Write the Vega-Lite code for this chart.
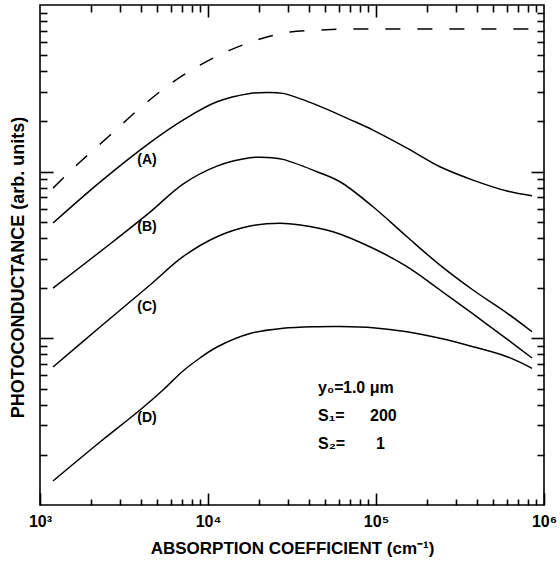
{
  "$schema": "https://vega.github.io/schema/vega-lite/v6.json",
  "width": 504,
  "height": 500,
  "autosize": {"type": "none"},
  "padding": {"left": 40, "top": 5, "right": 16, "bottom": 58},
  "background": "white",
  "config": {
    "view": {"stroke": "black", "strokeWidth": 1.6},
    "font": "Liberation Sans",
    "axis": {
      "domain": false,
      "grid": false,
      "tickColor": "black",
      "tickWidth": 1.6,
      "labels": false,
      "title": null,
      "labelFont": "Liberation Sans",
      "labelFontWeight": "bold",
      "labelColor": "black",
      "titleFont": "Liberation Sans",
      "titleFontWeight": "bold",
      "titleColor": "black"
    }
  },
  "datasets": {
    "solid": [
      {"series": "A", "x": 1195, "y": 49.2},
      {"series": "A", "x": 2276, "y": 86.6},
      {"series": "A", "x": 4517, "y": 149.5},
      {"series": "A", "x": 7099, "y": 204.0},
      {"series": "A", "x": 11310, "y": 262.6},
      {"series": "A", "x": 17780, "y": 294.9},
      {"series": "A", "x": 22450, "y": 299.0},
      {"series": "A", "x": 27950, "y": 294.9},
      {"series": "A", "x": 44550, "y": 250.9},
      {"series": "A", "x": 70030, "y": 205.4},
      {"series": "A", "x": 95970, "y": 177.6},
      {"series": "A", "x": 152900, "y": 138.5},
      {"series": "A", "x": 240400, "y": 107.0},
      {"series": "A", "x": 377900, "y": 89.0},
      {"series": "A", "x": 602300, "y": 76.5},
      {"series": "A", "x": 848500, "y": 71.7},
      {"series": "B", "x": 1195, "y": 20.03},
      {"series": "B", "x": 2610, "y": 36.8},
      {"series": "B", "x": 4517, "y": 57.2},
      {"series": "B", "x": 7099, "y": 84.3},
      {"series": "B", "x": 11310, "y": 108.0},
      {"series": "B", "x": 17780, "y": 121.2},
      {"series": "B", "x": 22450, "y": 121.8},
      {"series": "B", "x": 27950, "y": 118.5},
      {"series": "B", "x": 44550, "y": 99.9},
      {"series": "B", "x": 61050, "y": 87.0},
      {"series": "B", "x": 95970, "y": 61.6},
      {"series": "B", "x": 152900, "y": 40.7},
      {"series": "B", "x": 240400, "y": 27.5},
      {"series": "B", "x": 377900, "y": 19.5},
      {"series": "B", "x": 602300, "y": 14.18},
      {"series": "B", "x": 848500, "y": 10.95},
      {"series": "C", "x": 1195, "y": 6.73},
      {"series": "C", "x": 2276, "y": 11.69},
      {"series": "C", "x": 4517, "y": 20.9},
      {"series": "C", "x": 7099, "y": 30.9},
      {"series": "C", "x": 11310, "y": 40.7},
      {"series": "C", "x": 17780, "y": 47.2},
      {"series": "C", "x": 26830, "y": 49.0},
      {"series": "C", "x": 35290, "y": 47.8},
      {"series": "C", "x": 55460, "y": 43.6},
      {"series": "C", "x": 95970, "y": 34.7},
      {"series": "C", "x": 152900, "y": 26.9},
      {"series": "C", "x": 240400, "y": 19.5},
      {"series": "C", "x": 377900, "y": 14.0},
      {"series": "C", "x": 602300, "y": 9.90},
      {"series": "C", "x": 848500, "y": 7.62},
      {"series": "D", "x": 1195, "y": 1.393},
      {"series": "D", "x": 2276, "y": 2.388},
      {"series": "D", "x": 3937, "y": 3.715},
      {"series": "D", "x": 5398, "y": 4.90},
      {"series": "D", "x": 7099, "y": 6.37},
      {"series": "D", "x": 8962, "y": 7.62},
      {"series": "D", "x": 11310, "y": 8.87},
      {"series": "D", "x": 17780, "y": 10.69},
      {"series": "D", "x": 27950, "y": 11.48},
      {"series": "D", "x": 44550, "y": 11.74},
      {"series": "D", "x": 61050, "y": 11.77},
      {"series": "D", "x": 95970, "y": 11.58},
      {"series": "D", "x": 152900, "y": 10.95},
      {"series": "D", "x": 240400, "y": 10.0},
      {"series": "D", "x": 377900, "y": 8.90},
      {"series": "D", "x": 602300, "y": 7.76},
      {"series": "D", "x": 848500, "y": 6.61}
    ],
    "dashed": [
      {"x": 1195, "y": 79.7},
      {"x": 1730, "y": 114.2},
      {"x": 2540, "y": 161.3},
      {"x": 3937, "y": 240.7},
      {"x": 5941, "y": 335.4},
      {"x": 8962, "y": 436.0},
      {"x": 13520, "y": 536.4},
      {"x": 20400, "y": 624.4},
      {"x": 30770, "y": 687.9},
      {"x": 46420, "y": 707.2},
      {"x": 70030, "y": 717.1},
      {"x": 908500, "y": 717.1}
    ],
    "curveLabels": [
      {"t": "(A)", "x": 4335, "y": 117.4},
      {"t": "(B)", "x": 4335, "y": 46.5},
      {"t": "(C)", "x": 4335, "y": 15.4},
      {"t": "(D)", "x": 4335, "y": 3.33}
    ],
    "notes": [
      {"t": "y₀=", "x": 45190, "y": 5.03},
      {"t": "1.0 μm", "x": 63620, "y": 5.03},
      {"t": "S₁=", "x": 45190, "y": 3.42},
      {"t": "200", "x": 92100, "y": 3.42},
      {"t": "S₂=", "x": 45190, "y": 2.32},
      {"t": "1", "x": 100000, "y": 2.32}
    ]
  },
  "layer": [
    {
      "data": {"name": "solid"},
      "mark": {"type": "line", "color": "black", "strokeWidth": 1.5, "interpolate": "catmull-rom"},
      "encoding": {
        "detail": {"field": "series"},
        "x": {
          "field": "x", "type": "quantitative",
          "scale": {"type": "log", "domain": [1000, 1000000], "nice": false},
          "axis": {"orient": "bottom", "values": [2000,3000,4000,5000,6000,7000,8000,9000], "tickSize": 6, "offset": -6}
        },
        "y": {
          "field": "y", "type": "quantitative",
          "scale": {"type": "log", "domain": [1, 1000], "nice": false},
          "axis": {"orient": "left", "values": [2,3,4,5,6,7,8,9], "tickSize": 7, "offset": -7}
        }
      }
    },
    {
      "data": {"name": "dashed"},
      "mark": {"type": "line", "color": "black", "strokeWidth": 1.5, "strokeDash": [15, 17], "interpolate": "monotone"},
      "encoding": {
        "x": {
          "field": "x", "type": "quantitative",
          "scale": {"type": "log", "domain": [1000, 1000000], "nice": false},
          "axis": {"orient": "bottom", "values": [20000,30000,40000,50000,60000,70000,80000,90000], "tickSize": 6, "offset": -6}
        },
        "y": {
          "field": "y", "type": "quantitative",
          "scale": {"type": "log", "domain": [1, 1000], "nice": false},
          "axis": {"orient": "left", "values": [20,30,40,50,60,70,80,90], "tickSize": 7, "offset": -7}
        }
      }
    },
    {
      "data": {"name": "curveLabels"},
      "mark": {"type": "text", "font": "Liberation Sans", "fontWeight": "bold", "fontSize": 14, "align": "center", "baseline": "middle", "color": "black"},
      "encoding": {
        "text": {"field": "t"},
        "x": {
          "field": "x", "type": "quantitative",
          "scale": {"type": "log", "domain": [1000, 1000000], "nice": false},
          "axis": {"orient": "bottom", "values": [200000,300000,400000,500000,600000,700000,800000,900000], "tickSize": 6, "offset": -6}
        },
        "y": {
          "field": "y", "type": "quantitative",
          "scale": {"type": "log", "domain": [1, 1000], "nice": false},
          "axis": {"orient": "left", "values": [200,300,400,500,600,700,800,900], "tickSize": 7, "offset": -7}
        }
      }
    },
    {
      "data": {"name": "notes"},
      "mark": {"type": "text", "font": "Liberation Sans", "fontWeight": "bold", "fontSize": 16, "align": "left", "baseline": "middle", "color": "black"},
      "encoding": {
        "text": {"field": "t"},
        "x": {
          "field": "x", "type": "quantitative",
          "scale": {"type": "log", "domain": [1000, 1000000], "nice": false},
          "axis": {"orient": "top", "values": [2000,3000,4000,5000,6000,7000,8000,9000], "tickSize": 7, "offset": -7}
        },
        "y": {
          "field": "y", "type": "quantitative",
          "scale": {"type": "log", "domain": [1, 1000], "nice": false},
          "axis": {"orient": "right", "values": [2,3,4,5,6,7,8,9], "tickSize": 7, "offset": -7}
        }
      }
    },
    {
      "data": {"name": "dashed"},
      "mark": {"type": "point", "opacity": 0},
      "encoding": {
        "x": {
          "field": "x", "type": "quantitative",
          "scale": {"type": "log", "domain": [1000, 1000000], "nice": false},
          "axis": {"orient": "top", "values": [20000,30000,40000,50000,60000,70000,80000,90000], "tickSize": 7, "offset": -7}
        },
        "y": {
          "field": "y", "type": "quantitative",
          "scale": {"type": "log", "domain": [1, 1000], "nice": false},
          "axis": {"orient": "right", "values": [20,30,40,50,60,70,80,90], "tickSize": 7, "offset": -7}
        }
      }
    },
    {
      "data": {"name": "dashed"},
      "mark": {"type": "point", "opacity": 0},
      "encoding": {
        "x": {
          "field": "x", "type": "quantitative",
          "scale": {"type": "log", "domain": [1000, 1000000], "nice": false},
          "axis": {"orient": "top", "values": [200000,300000,400000,500000,600000,700000,800000,900000], "tickSize": 7, "offset": -7}
        },
        "y": {
          "field": "y", "type": "quantitative",
          "scale": {"type": "log", "domain": [1, 1000], "nice": false},
          "axis": {"orient": "right", "values": [200,300,400,500,600,700,800,900], "tickSize": 7, "offset": -7}
        }
      }
    },
    {
      "data": {"name": "dashed"},
      "mark": {"type": "point", "opacity": 0},
      "encoding": {
        "x": {
          "field": "x", "type": "quantitative",
          "scale": {"type": "log", "domain": [1000, 1000000], "nice": false},
          "axis": {"orient": "bottom", "values": [1000, 10000, 100000, 1000000], "tickSize": 12, "offset": -12, "labels": true, "labelFlush": false, "labelOverlap": false, "labelFontSize": 16, "labelPadding": 8, "labelExpr": "datum.value == 1000 ? '10³' : datum.value == 10000 ? '10⁴' : datum.value == 100000 ? '10⁵' : '10⁶'", "title": "ABSORPTION COEFFICIENT (cm⁻¹)", "titleFontSize": 17, "titlePadding": 11}
        },
        "y": {
          "field": "y", "type": "quantitative",
          "scale": {"type": "log", "domain": [1, 1000], "nice": false},
          "axis": {"orient": "left", "values": [10, 100], "tickSize": 13, "offset": -13, "title": "PHOTOCONDUCTANCE  (arb. units)", "titleFontSize": 18, "titlePadding": 12, "titleY": 262}
        }
      }
    },
    {
      "data": {"name": "dashed"},
      "mark": {"type": "point", "opacity": 0},
      "encoding": {
        "x": {
          "field": "x", "type": "quantitative",
          "scale": {"type": "log", "domain": [1000, 1000000], "nice": false},
          "axis": {"orient": "top", "values": [10000, 100000], "tickSize": 12, "offset": -12}
        },
        "y": {
          "field": "y", "type": "quantitative",
          "scale": {"type": "log", "domain": [1, 1000], "nice": false},
          "axis": {"orient": "right", "values": [10, 100], "tickSize": 13, "offset": -13}
        }
      }
    }
  ],
  "resolve": {
    "scale": {"x": "independent", "y": "independent"},
    "axis": {"x": "independent", "y": "independent"}
  }
}
